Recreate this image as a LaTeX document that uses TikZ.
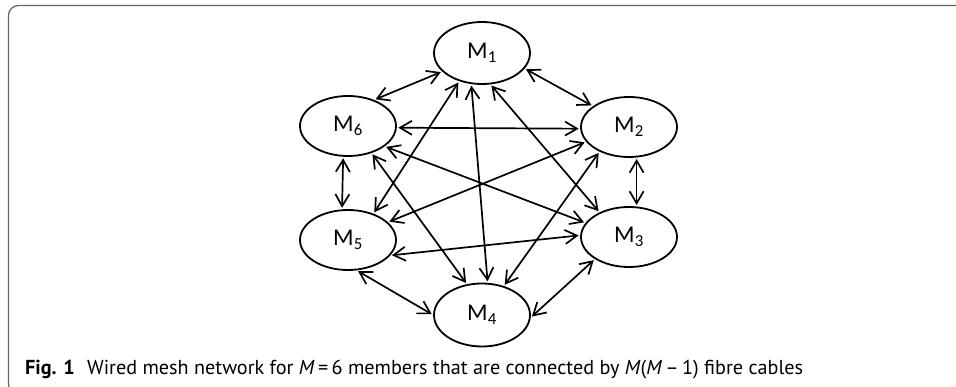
\documentclass[tikz,border=0pt]{standalone}
\usepackage{fontspec}
\setmainfont{Carlito}
\newfontfamily\capfont{PT Sans}
\usetikzlibrary{shapes.geometric,arrows.meta}
\tikzset{
  member/.style={ellipse, draw, line width=1.8pt, minimum width=96pt, minimum height=60pt,
    inner sep=0pt, font=\fontsize{24}{26}\selectfont},
  link/.style={line width=1.7pt,
    {Straight Barb[length=12pt,width=14pt]}-{Straight Barb[length=12pt,width=14pt]},
    shorten <=1.5pt, shorten >=1.5pt},
  frame/.style={black!60, line width=1.3pt, rounded corners=10pt},
  caption/.style={anchor=base west, inner sep=0pt, font=\capfont\fontsize{17}{20}\selectfont}
}
\begin{document}
\begin{tikzpicture}[x=1pt,y=-1pt]
\useasboundingbox (0,0) rectangle (956,387);
\begin{scope}
  \clip (0,0) rectangle (956,387);
  \draw[frame] (8.5,5.5) rectangle (985,394);
\end{scope}

\node[member, minimum height=62pt] (M1) at (482,53) {M\textsubscript{1}};
\node[member] (M6) at (348,126) {M\textsubscript{6}};
\node[member] (M2) at (629,127) {M\textsubscript{2}};
\node[member] (M5) at (348,240) {M\textsubscript{5}};
\node[member] (M3) at (629,237) {M\textsubscript{3}};
\node[member, minimum height=63pt] (M4) at (482,315) {M\textsubscript{4}};

\draw[link] (M1.205) -- (M6.45);
\draw[link] (M1.340) -- (M2.150);
\draw[link] (M1.231) -- (M5.46);
\draw[link] (M1.251) -- (M4.80);
\draw[link] (M1.285) -- (M3.140);
\draw[link] (M6.358) -- (M2.182);
\draw[link] (M6.331) -- (M3.162);
\draw[link] (M6.311) -- (M4.116);
\draw[link] (M6.261) -- (M5.101);
\draw[link] (M2.199) -- (M5.24);
\draw[link] (M2.220) -- (M4.53);
\draw[link] (M2.284) -- (M3.76);
\draw[link] (M5.340) -- (M3.178);
\draw[link] (M5.286) -- (M4.180);
\draw[link] (M3.213) -- (M4.357);

\node[caption] (cap) at (25,374) {\resizebox{778pt}{!}{\textbf{Fig. 1}\hspace{0.6em}Wired mesh network for \textit{M}\,=\,6 members that are connected by \textit{M}(\textit{M}\,–\,1) fibre cables}};
\end{tikzpicture}
\end{document}
